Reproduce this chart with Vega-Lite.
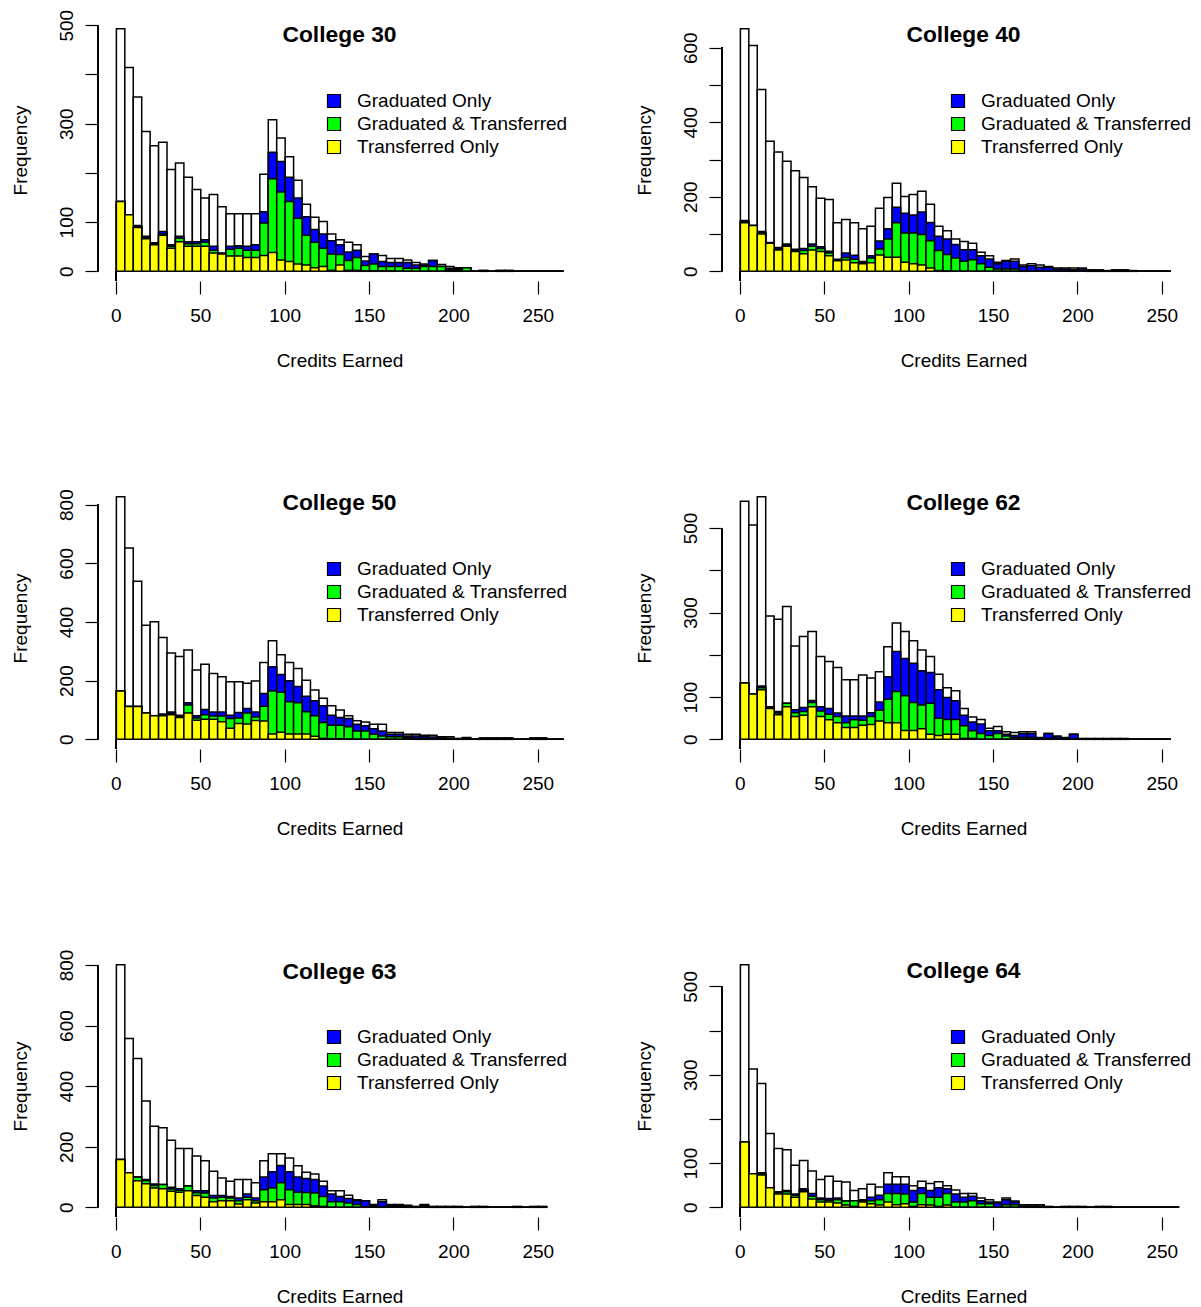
{
  "$schema": "https://vega.github.io/schema/vega-lite/v6.json",
  "background": "white",
  "padding": {"left": 10, "top": 9, "right": 0, "bottom": 0},
  "datasets": {
    "c30": [
      {"bin":0,"total":493,"grad_or_trans":142,"trans":142,"trans_only":142},
      {"bin":5,"total":414,"grad_or_trans":115,"trans":115,"trans_only":115},
      {"bin":10,"total":354,"grad_or_trans":93,"trans":91,"trans_only":89},
      {"bin":15,"total":284,"grad_or_trans":71,"trans":69,"trans_only":66},
      {"bin":20,"total":255,"grad_or_trans":58,"trans":56,"trans_only":54},
      {"bin":25,"total":262,"grad_or_trans":81,"trans":76,"trans_only":73},
      {"bin":30,"total":207,"grad_or_trans":54,"trans":51,"trans_only":47},
      {"bin":35,"total":220,"grad_or_trans":71,"trans":67,"trans_only":60},
      {"bin":40,"total":191,"grad_or_trans":60,"trans":56,"trans_only":51},
      {"bin":45,"total":166,"grad_or_trans":60,"trans":56,"trans_only":51},
      {"bin":50,"total":149,"grad_or_trans":64,"trans":59,"trans_only":51},
      {"bin":55,"total":156,"grad_or_trans":51,"trans":43,"trans_only":37},
      {"bin":60,"total":131,"grad_or_trans":37,"trans":36,"trans_only":35},
      {"bin":65,"total":117,"grad_or_trans":51,"trans":45,"trans_only":31},
      {"bin":70,"total":117,"grad_or_trans":52,"trans":47,"trans_only":31},
      {"bin":75,"total":117,"grad_or_trans":51,"trans":43,"trans_only":28},
      {"bin":80,"total":117,"grad_or_trans":54,"trans":43,"trans_only":28},
      {"bin":85,"total":197,"grad_or_trans":121,"trans":98,"trans_only":32},
      {"bin":90,"total":308,"grad_or_trans":242,"trans":188,"trans_only":38},
      {"bin":95,"total":271,"grad_or_trans":223,"trans":161,"trans_only":23},
      {"bin":100,"total":233,"grad_or_trans":191,"trans":142,"trans_only":20},
      {"bin":105,"total":185,"grad_or_trans":149,"trans":108,"trans_only":15},
      {"bin":110,"total":136,"grad_or_trans":111,"trans":73,"trans_only":13},
      {"bin":115,"total":110,"grad_or_trans":85,"trans":59,"trans_only":7},
      {"bin":120,"total":101,"grad_or_trans":76,"trans":47,"trans_only":10},
      {"bin":125,"total":76,"grad_or_trans":62,"trans":35,"trans_only":2},
      {"bin":130,"total":64,"grad_or_trans":54,"trans":34,"trans_only":13},
      {"bin":135,"total":59,"grad_or_trans":39,"trans":22,"trans_only":2},
      {"bin":140,"total":54,"grad_or_trans":43,"trans":28,"trans_only":2},
      {"bin":145,"total":30,"grad_or_trans":21,"trans":12,"trans_only":1},
      {"bin":150,"total":35,"grad_or_trans":35,"trans":15,"trans_only":1},
      {"bin":155,"total":32,"grad_or_trans":20,"trans":10,"trans_only":1},
      {"bin":160,"total":26,"grad_or_trans":18,"trans":10,"trans_only":1},
      {"bin":165,"total":26,"grad_or_trans":18,"trans":10,"trans_only":0},
      {"bin":170,"total":23,"grad_or_trans":18,"trans":6,"trans_only":0},
      {"bin":175,"total":18,"grad_or_trans":13,"trans":6,"trans_only":0},
      {"bin":180,"total":15,"grad_or_trans":13,"trans":10,"trans_only":0},
      {"bin":185,"total":22,"grad_or_trans":22,"trans":10,"trans_only":0},
      {"bin":190,"total":14,"grad_or_trans":10,"trans":10,"trans_only":0},
      {"bin":195,"total":10,"grad_or_trans":6,"trans":3,"trans_only":0},
      {"bin":200,"total":7,"grad_or_trans":5,"trans":3,"trans_only":0},
      {"bin":205,"total":7,"grad_or_trans":7,"trans":7,"trans_only":0},
      {"bin":210,"total":0,"grad_or_trans":0,"trans":0,"trans_only":0},
      {"bin":215,"total":2,"grad_or_trans":1,"trans":0,"trans_only":0},
      {"bin":220,"total":0,"grad_or_trans":0,"trans":0,"trans_only":0},
      {"bin":225,"total":2,"grad_or_trans":1,"trans":0,"trans_only":0},
      {"bin":230,"total":2,"grad_or_trans":1,"trans":0,"trans_only":0},
      {"bin":235,"total":0,"grad_or_trans":0,"trans":0,"trans_only":0},
      {"bin":240,"total":0,"grad_or_trans":0,"trans":0,"trans_only":0},
      {"bin":245,"total":0,"grad_or_trans":0,"trans":0,"trans_only":0},
      {"bin":250,"total":0,"grad_or_trans":0,"trans":0,"trans_only":0},
      {"bin":255,"total":0,"grad_or_trans":0,"trans":0,"trans_only":0},
      {"bin":260,"total":0,"grad_or_trans":0,"trans":0,"trans_only":0}
    ],
    "c40": [
      {"bin":0,"total":651,"grad_or_trans":136,"trans":134,"trans_only":130},
      {"bin":5,"total":606,"grad_or_trans":123,"trans":123,"trans_only":123},
      {"bin":10,"total":488,"grad_or_trans":107,"trans":104,"trans_only":100},
      {"bin":15,"total":349,"grad_or_trans":77,"trans":76,"trans_only":75},
      {"bin":20,"total":320,"grad_or_trans":64,"trans":60,"trans_only":57},
      {"bin":25,"total":295,"grad_or_trans":73,"trans":70,"trans_only":67},
      {"bin":30,"total":270,"grad_or_trans":59,"trans":56,"trans_only":53},
      {"bin":35,"total":252,"grad_or_trans":61,"trans":56,"trans_only":47},
      {"bin":40,"total":227,"grad_or_trans":73,"trans":67,"trans_only":57},
      {"bin":45,"total":196,"grad_or_trans":66,"trans":61,"trans_only":53},
      {"bin":50,"total":193,"grad_or_trans":54,"trans":49,"trans_only":42},
      {"bin":55,"total":130,"grad_or_trans":32,"trans":30,"trans_only":28},
      {"bin":60,"total":139,"grad_or_trans":49,"trans":37,"trans_only":30},
      {"bin":65,"total":130,"grad_or_trans":43,"trans":32,"trans_only":23},
      {"bin":70,"total":114,"grad_or_trans":26,"trans":24,"trans_only":20},
      {"bin":75,"total":121,"grad_or_trans":42,"trans":36,"trans_only":23},
      {"bin":80,"total":169,"grad_or_trans":81,"trans":60,"trans_only":44},
      {"bin":85,"total":198,"grad_or_trans":114,"trans":87,"trans_only":38},
      {"bin":90,"total":236,"grad_or_trans":172,"trans":130,"trans_only":38},
      {"bin":95,"total":201,"grad_or_trans":156,"trans":103,"trans_only":24},
      {"bin":100,"total":206,"grad_or_trans":151,"trans":103,"trans_only":20},
      {"bin":105,"total":215,"grad_or_trans":159,"trans":99,"trans_only":17},
      {"bin":110,"total":180,"grad_or_trans":131,"trans":82,"trans_only":9},
      {"bin":115,"total":121,"grad_or_trans":94,"trans":56,"trans_only":2},
      {"bin":120,"total":109,"grad_or_trans":87,"trans":45,"trans_only":1},
      {"bin":125,"total":87,"grad_or_trans":72,"trans":36,"trans_only":0},
      {"bin":130,"total":80,"grad_or_trans":58,"trans":27,"trans_only":0},
      {"bin":135,"total":75,"grad_or_trans":58,"trans":31,"trans_only":0},
      {"bin":140,"total":51,"grad_or_trans":42,"trans":20,"trans_only":0},
      {"bin":145,"total":42,"grad_or_trans":33,"trans":11,"trans_only":0},
      {"bin":150,"total":24,"grad_or_trans":20,"trans":6,"trans_only":0},
      {"bin":155,"total":29,"grad_or_trans":27,"trans":6,"trans_only":0},
      {"bin":160,"total":33,"grad_or_trans":27,"trans":6,"trans_only":0},
      {"bin":165,"total":17,"grad_or_trans":13,"trans":1,"trans_only":0},
      {"bin":170,"total":20,"grad_or_trans":15,"trans":0,"trans_only":0},
      {"bin":175,"total":17,"grad_or_trans":11,"trans":0,"trans_only":0},
      {"bin":180,"total":13,"grad_or_trans":11,"trans":0,"trans_only":0},
      {"bin":185,"total":9,"grad_or_trans":6,"trans":0,"trans_only":0},
      {"bin":190,"total":9,"grad_or_trans":6,"trans":0,"trans_only":0},
      {"bin":195,"total":9,"grad_or_trans":4,"trans":0,"trans_only":0},
      {"bin":200,"total":9,"grad_or_trans":6,"trans":0,"trans_only":0},
      {"bin":205,"total":4,"grad_or_trans":2,"trans":0,"trans_only":0},
      {"bin":210,"total":4,"grad_or_trans":2,"trans":0,"trans_only":0},
      {"bin":215,"total":2,"grad_or_trans":1,"trans":0,"trans_only":0},
      {"bin":220,"total":4,"grad_or_trans":2,"trans":0,"trans_only":0},
      {"bin":225,"total":4,"grad_or_trans":2,"trans":0,"trans_only":0},
      {"bin":230,"total":2,"grad_or_trans":1,"trans":0,"trans_only":0},
      {"bin":235,"total":0,"grad_or_trans":0,"trans":0,"trans_only":0},
      {"bin":240,"total":0,"grad_or_trans":0,"trans":0,"trans_only":0},
      {"bin":245,"total":0,"grad_or_trans":0,"trans":0,"trans_only":0},
      {"bin":250,"total":0,"grad_or_trans":0,"trans":0,"trans_only":0}
    ],
    "c50": [
      {"bin":0,"total":827,"grad_or_trans":165,"trans":165,"trans_only":165},
      {"bin":5,"total":652,"grad_or_trans":112,"trans":112,"trans_only":112},
      {"bin":10,"total":539,"grad_or_trans":112,"trans":112,"trans_only":112},
      {"bin":15,"total":389,"grad_or_trans":90,"trans":90,"trans_only":90},
      {"bin":20,"total":401,"grad_or_trans":80,"trans":80,"trans_only":80},
      {"bin":25,"total":347,"grad_or_trans":86,"trans":83,"trans_only":80},
      {"bin":30,"total":294,"grad_or_trans":93,"trans":88,"trans_only":84},
      {"bin":35,"total":282,"grad_or_trans":82,"trans":78,"trans_only":74},
      {"bin":40,"total":304,"grad_or_trans":125,"trans":117,"trans_only":90},
      {"bin":45,"total":236,"grad_or_trans":80,"trans":73,"trans_only":65},
      {"bin":50,"total":256,"grad_or_trans":102,"trans":84,"trans_only":68},
      {"bin":55,"total":224,"grad_or_trans":93,"trans":79,"trans_only":68},
      {"bin":60,"total":213,"grad_or_trans":93,"trans":79,"trans_only":60},
      {"bin":65,"total":196,"grad_or_trans":82,"trans":71,"trans_only":38},
      {"bin":70,"total":196,"grad_or_trans":91,"trans":73,"trans_only":54},
      {"bin":75,"total":191,"grad_or_trans":105,"trans":90,"trans_only":52},
      {"bin":80,"total":199,"grad_or_trans":93,"trans":76,"trans_only":64},
      {"bin":85,"total":262,"grad_or_trans":156,"trans":113,"trans_only":62},
      {"bin":90,"total":336,"grad_or_trans":247,"trans":165,"trans_only":18},
      {"bin":95,"total":288,"grad_or_trans":221,"trans":160,"trans_only":24},
      {"bin":100,"total":262,"grad_or_trans":200,"trans":128,"trans_only":18},
      {"bin":105,"total":241,"grad_or_trans":180,"trans":125,"trans_only":18},
      {"bin":110,"total":201,"grad_or_trans":147,"trans":94,"trans_only":18},
      {"bin":115,"total":168,"grad_or_trans":131,"trans":80,"trans_only":10},
      {"bin":120,"total":140,"grad_or_trans":114,"trans":57,"trans_only":3},
      {"bin":125,"total":114,"grad_or_trans":82,"trans":48,"trans_only":2},
      {"bin":130,"total":100,"grad_or_trans":74,"trans":48,"trans_only":2},
      {"bin":135,"total":80,"grad_or_trans":71,"trans":43,"trans_only":1},
      {"bin":140,"total":63,"grad_or_trans":51,"trans":28,"trans_only":1},
      {"bin":145,"total":59,"grad_or_trans":46,"trans":28,"trans_only":0},
      {"bin":150,"total":51,"grad_or_trans":36,"trans":17,"trans_only":0},
      {"bin":155,"total":51,"grad_or_trans":28,"trans":11,"trans_only":0},
      {"bin":160,"total":23,"grad_or_trans":17,"trans":9,"trans_only":0},
      {"bin":165,"total":23,"grad_or_trans":17,"trans":9,"trans_only":0},
      {"bin":170,"total":17,"grad_or_trans":11,"trans":6,"trans_only":0},
      {"bin":175,"total":17,"grad_or_trans":11,"trans":3,"trans_only":0},
      {"bin":180,"total":14,"grad_or_trans":9,"trans":2,"trans_only":0},
      {"bin":185,"total":14,"grad_or_trans":8,"trans":2,"trans_only":0},
      {"bin":190,"total":9,"grad_or_trans":5,"trans":0,"trans_only":0},
      {"bin":195,"total":9,"grad_or_trans":4,"trans":0,"trans_only":0},
      {"bin":200,"total":3,"grad_or_trans":1,"trans":0,"trans_only":0},
      {"bin":205,"total":6,"grad_or_trans":3,"trans":0,"trans_only":0},
      {"bin":210,"total":1,"grad_or_trans":0,"trans":0,"trans_only":0},
      {"bin":215,"total":5,"grad_or_trans":2,"trans":0,"trans_only":0},
      {"bin":220,"total":5,"grad_or_trans":2,"trans":0,"trans_only":0},
      {"bin":225,"total":5,"grad_or_trans":2,"trans":0,"trans_only":0},
      {"bin":230,"total":5,"grad_or_trans":2,"trans":0,"trans_only":0},
      {"bin":235,"total":0,"grad_or_trans":0,"trans":0,"trans_only":0},
      {"bin":240,"total":0,"grad_or_trans":0,"trans":0,"trans_only":0},
      {"bin":245,"total":5,"grad_or_trans":2,"trans":0,"trans_only":0},
      {"bin":250,"total":5,"grad_or_trans":2,"trans":0,"trans_only":0},
      {"bin":255,"total":0,"grad_or_trans":0,"trans":0,"trans_only":0},
      {"bin":260,"total":0,"grad_or_trans":0,"trans":0,"trans_only":0}
    ],
    "c62": [
      {"bin":0,"total":563,"grad_or_trans":133,"trans":133,"trans_only":133},
      {"bin":5,"total":507,"grad_or_trans":107,"trans":107,"trans_only":107},
      {"bin":10,"total":574,"grad_or_trans":126,"trans":122,"trans_only":117},
      {"bin":15,"total":292,"grad_or_trans":77,"trans":75,"trans_only":73},
      {"bin":20,"total":284,"grad_or_trans":66,"trans":62,"trans_only":58},
      {"bin":25,"total":314,"grad_or_trans":85,"trans":85,"trans_only":77},
      {"bin":30,"total":221,"grad_or_trans":70,"trans":63,"trans_only":54},
      {"bin":35,"total":243,"grad_or_trans":75,"trans":66,"trans_only":57},
      {"bin":40,"total":255,"grad_or_trans":92,"trans":87,"trans_only":77},
      {"bin":45,"total":196,"grad_or_trans":77,"trans":67,"trans_only":54},
      {"bin":50,"total":184,"grad_or_trans":73,"trans":59,"trans_only":46},
      {"bin":55,"total":170,"grad_or_trans":62,"trans":54,"trans_only":39},
      {"bin":60,"total":141,"grad_or_trans":55,"trans":39,"trans_only":28},
      {"bin":65,"total":141,"grad_or_trans":55,"trans":46,"trans_only":28},
      {"bin":70,"total":152,"grad_or_trans":55,"trans":45,"trans_only":33},
      {"bin":75,"total":145,"grad_or_trans":63,"trans":54,"trans_only":35},
      {"bin":80,"total":160,"grad_or_trans":88,"trans":69,"trans_only":43},
      {"bin":85,"total":219,"grad_or_trans":148,"trans":95,"trans_only":39},
      {"bin":90,"total":275,"grad_or_trans":208,"trans":113,"trans_only":39},
      {"bin":95,"total":255,"grad_or_trans":191,"trans":103,"trans_only":21},
      {"bin":100,"total":233,"grad_or_trans":180,"trans":87,"trans_only":21},
      {"bin":105,"total":211,"grad_or_trans":162,"trans":81,"trans_only":25},
      {"bin":110,"total":196,"grad_or_trans":158,"trans":85,"trans_only":12},
      {"bin":115,"total":154,"grad_or_trans":117,"trans":50,"trans_only":9},
      {"bin":120,"total":122,"grad_or_trans":99,"trans":47,"trans_only":12},
      {"bin":125,"total":115,"grad_or_trans":91,"trans":47,"trans_only":12},
      {"bin":130,"total":73,"grad_or_trans":57,"trans":32,"trans_only":2},
      {"bin":135,"total":53,"grad_or_trans":41,"trans":20,"trans_only":2},
      {"bin":140,"total":47,"grad_or_trans":36,"trans":14,"trans_only":0},
      {"bin":145,"total":26,"grad_or_trans":20,"trans":9,"trans_only":0},
      {"bin":150,"total":30,"grad_or_trans":20,"trans":14,"trans_only":0},
      {"bin":155,"total":18,"grad_or_trans":12,"trans":8,"trans_only":0},
      {"bin":160,"total":16,"grad_or_trans":9,"trans":4,"trans_only":0},
      {"bin":165,"total":18,"grad_or_trans":14,"trans":4,"trans_only":0},
      {"bin":170,"total":18,"grad_or_trans":14,"trans":4,"trans_only":0},
      {"bin":175,"total":4,"grad_or_trans":2,"trans":0,"trans_only":0},
      {"bin":180,"total":14,"grad_or_trans":14,"trans":2,"trans_only":0},
      {"bin":185,"total":8,"grad_or_trans":6,"trans":0,"trans_only":0},
      {"bin":190,"total":4,"grad_or_trans":2,"trans":0,"trans_only":0},
      {"bin":195,"total":12,"grad_or_trans":12,"trans":0,"trans_only":0},
      {"bin":200,"total":2,"grad_or_trans":1,"trans":0,"trans_only":0},
      {"bin":205,"total":2,"grad_or_trans":1,"trans":0,"trans_only":0},
      {"bin":210,"total":2,"grad_or_trans":1,"trans":0,"trans_only":0},
      {"bin":215,"total":2,"grad_or_trans":1,"trans":0,"trans_only":0},
      {"bin":220,"total":2,"grad_or_trans":1,"trans":0,"trans_only":0},
      {"bin":225,"total":2,"grad_or_trans":1,"trans":0,"trans_only":0},
      {"bin":230,"total":0,"grad_or_trans":0,"trans":0,"trans_only":0},
      {"bin":235,"total":0,"grad_or_trans":0,"trans":0,"trans_only":0},
      {"bin":240,"total":0,"grad_or_trans":0,"trans":0,"trans_only":0},
      {"bin":245,"total":0,"grad_or_trans":0,"trans":0,"trans_only":0},
      {"bin":250,"total":0,"grad_or_trans":0,"trans":0,"trans_only":0}
    ],
    "c63": [
      {"bin":0,"total":801,"grad_or_trans":158,"trans":158,"trans_only":158},
      {"bin":5,"total":557,"grad_or_trans":114,"trans":114,"trans_only":114},
      {"bin":10,"total":491,"grad_or_trans":101,"trans":99,"trans_only":88},
      {"bin":15,"total":351,"grad_or_trans":92,"trans":88,"trans_only":78},
      {"bin":20,"total":268,"grad_or_trans":77,"trans":72,"trans_only":64},
      {"bin":25,"total":263,"grad_or_trans":75,"trans":75,"trans_only":61},
      {"bin":30,"total":221,"grad_or_trans":66,"trans":60,"trans_only":53},
      {"bin":35,"total":194,"grad_or_trans":61,"trans":56,"trans_only":50},
      {"bin":40,"total":194,"grad_or_trans":70,"trans":70,"trans_only":55},
      {"bin":45,"total":169,"grad_or_trans":55,"trans":48,"trans_only":39},
      {"bin":50,"total":154,"grad_or_trans":55,"trans":47,"trans_only":33},
      {"bin":55,"total":119,"grad_or_trans":39,"trans":31,"trans_only":18},
      {"bin":60,"total":97,"grad_or_trans":39,"trans":33,"trans_only":22},
      {"bin":65,"total":86,"grad_or_trans":36,"trans":31,"trans_only":22},
      {"bin":70,"total":92,"grad_or_trans":31,"trans":22,"trans_only":11},
      {"bin":75,"total":92,"grad_or_trans":44,"trans":33,"trans_only":25},
      {"bin":80,"total":81,"grad_or_trans":31,"trans":22,"trans_only":14},
      {"bin":85,"total":154,"grad_or_trans":100,"trans":58,"trans_only":18},
      {"bin":90,"total":177,"grad_or_trans":117,"trans":64,"trans_only":18},
      {"bin":95,"total":177,"grad_or_trans":138,"trans":81,"trans_only":25},
      {"bin":100,"total":163,"grad_or_trans":117,"trans":58,"trans_only":9},
      {"bin":105,"total":137,"grad_or_trans":100,"trans":50,"trans_only":9},
      {"bin":110,"total":116,"grad_or_trans":95,"trans":49,"trans_only":9},
      {"bin":115,"total":110,"grad_or_trans":92,"trans":47,"trans_only":5},
      {"bin":120,"total":86,"grad_or_trans":70,"trans":36,"trans_only":3},
      {"bin":125,"total":55,"grad_or_trans":44,"trans":18,"trans_only":0},
      {"bin":130,"total":55,"grad_or_trans":36,"trans":18,"trans_only":0},
      {"bin":135,"total":40,"grad_or_trans":29,"trans":14,"trans_only":0},
      {"bin":140,"total":25,"grad_or_trans":22,"trans":9,"trans_only":0},
      {"bin":145,"total":22,"grad_or_trans":22,"trans":1,"trans_only":0},
      {"bin":150,"total":9,"grad_or_trans":5,"trans":0,"trans_only":0},
      {"bin":155,"total":25,"grad_or_trans":18,"trans":2,"trans_only":0},
      {"bin":160,"total":9,"grad_or_trans":5,"trans":0,"trans_only":0},
      {"bin":165,"total":9,"grad_or_trans":5,"trans":0,"trans_only":0},
      {"bin":170,"total":7,"grad_or_trans":4,"trans":0,"trans_only":0},
      {"bin":175,"total":3,"grad_or_trans":1,"trans":0,"trans_only":0},
      {"bin":180,"total":9,"grad_or_trans":7,"trans":0,"trans_only":0},
      {"bin":185,"total":3,"grad_or_trans":1,"trans":0,"trans_only":0},
      {"bin":190,"total":3,"grad_or_trans":1,"trans":0,"trans_only":0},
      {"bin":195,"total":3,"grad_or_trans":1,"trans":0,"trans_only":0},
      {"bin":200,"total":3,"grad_or_trans":1,"trans":0,"trans_only":0},
      {"bin":205,"total":0,"grad_or_trans":0,"trans":0,"trans_only":0},
      {"bin":210,"total":3,"grad_or_trans":1,"trans":0,"trans_only":0},
      {"bin":215,"total":3,"grad_or_trans":1,"trans":0,"trans_only":0},
      {"bin":220,"total":0,"grad_or_trans":0,"trans":0,"trans_only":0},
      {"bin":225,"total":0,"grad_or_trans":0,"trans":0,"trans_only":0},
      {"bin":230,"total":0,"grad_or_trans":0,"trans":0,"trans_only":0},
      {"bin":235,"total":3,"grad_or_trans":1,"trans":0,"trans_only":0},
      {"bin":240,"total":0,"grad_or_trans":0,"trans":0,"trans_only":0},
      {"bin":245,"total":3,"grad_or_trans":1,"trans":0,"trans_only":0},
      {"bin":250,"total":3,"grad_or_trans":1,"trans":0,"trans_only":0}
    ],
    "c64": [
      {"bin":0,"total":549,"grad_or_trans":148,"trans":148,"trans_only":148},
      {"bin":5,"total":313,"grad_or_trans":76,"trans":76,"trans_only":76},
      {"bin":10,"total":280,"grad_or_trans":78,"trans":76,"trans_only":73},
      {"bin":15,"total":167,"grad_or_trans":44,"trans":44,"trans_only":44},
      {"bin":20,"total":133,"grad_or_trans":35,"trans":33,"trans_only":30},
      {"bin":25,"total":130,"grad_or_trans":38,"trans":35,"trans_only":30},
      {"bin":30,"total":95,"grad_or_trans":30,"trans":27,"trans_only":23},
      {"bin":35,"total":106,"grad_or_trans":42,"trans":38,"trans_only":35},
      {"bin":40,"total":82,"grad_or_trans":31,"trans":25,"trans_only":19},
      {"bin":45,"total":63,"grad_or_trans":21,"trans":17,"trans_only":12},
      {"bin":50,"total":70,"grad_or_trans":20,"trans":16,"trans_only":12},
      {"bin":55,"total":59,"grad_or_trans":21,"trans":17,"trans_only":10},
      {"bin":60,"total":57,"grad_or_trans":14,"trans":14,"trans_only":5},
      {"bin":65,"total":38,"grad_or_trans":15,"trans":15,"trans_only":2},
      {"bin":70,"total":42,"grad_or_trans":17,"trans":15,"trans_only":12},
      {"bin":75,"total":52,"grad_or_trans":23,"trans":15,"trans_only":8},
      {"bin":80,"total":46,"grad_or_trans":27,"trans":17,"trans_only":5},
      {"bin":85,"total":78,"grad_or_trans":52,"trans":31,"trans_only":12},
      {"bin":90,"total":69,"grad_or_trans":52,"trans":31,"trans_only":6},
      {"bin":95,"total":69,"grad_or_trans":52,"trans":30,"trans_only":8},
      {"bin":100,"total":49,"grad_or_trans":38,"trans":12,"trans_only":2},
      {"bin":105,"total":59,"grad_or_trans":44,"trans":31,"trans_only":6},
      {"bin":110,"total":54,"grad_or_trans":38,"trans":23,"trans_only":5},
      {"bin":115,"total":58,"grad_or_trans":44,"trans":23,"trans_only":2},
      {"bin":120,"total":49,"grad_or_trans":42,"trans":31,"trans_only":5},
      {"bin":125,"total":39,"grad_or_trans":30,"trans":12,"trans_only":0},
      {"bin":130,"total":31,"grad_or_trans":23,"trans":12,"trans_only":0},
      {"bin":135,"total":31,"grad_or_trans":25,"trans":15,"trans_only":0},
      {"bin":140,"total":21,"grad_or_trans":15,"trans":8,"trans_only":0},
      {"bin":145,"total":17,"grad_or_trans":12,"trans":8,"trans_only":0},
      {"bin":150,"total":12,"grad_or_trans":10,"trans":0,"trans_only":0},
      {"bin":155,"total":21,"grad_or_trans":17,"trans":6,"trans_only":0},
      {"bin":160,"total":14,"grad_or_trans":12,"trans":6,"trans_only":0},
      {"bin":165,"total":6,"grad_or_trans":3,"trans":0,"trans_only":0},
      {"bin":170,"total":6,"grad_or_trans":3,"trans":0,"trans_only":0},
      {"bin":175,"total":6,"grad_or_trans":3,"trans":0,"trans_only":0},
      {"bin":180,"total":2,"grad_or_trans":1,"trans":0,"trans_only":0},
      {"bin":185,"total":0,"grad_or_trans":0,"trans":0,"trans_only":0},
      {"bin":190,"total":2,"grad_or_trans":1,"trans":0,"trans_only":0},
      {"bin":195,"total":2,"grad_or_trans":1,"trans":0,"trans_only":0},
      {"bin":200,"total":2,"grad_or_trans":1,"trans":0,"trans_only":0},
      {"bin":205,"total":0,"grad_or_trans":0,"trans":0,"trans_only":0},
      {"bin":210,"total":2,"grad_or_trans":1,"trans":0,"trans_only":0},
      {"bin":215,"total":2,"grad_or_trans":1,"trans":0,"trans_only":0},
      {"bin":220,"total":0,"grad_or_trans":0,"trans":0,"trans_only":0},
      {"bin":225,"total":0,"grad_or_trans":0,"trans":0,"trans_only":0},
      {"bin":230,"total":0,"grad_or_trans":0,"trans":0,"trans_only":0},
      {"bin":235,"total":0,"grad_or_trans":0,"trans":0,"trans_only":0},
      {"bin":240,"total":0,"grad_or_trans":0,"trans":0,"trans_only":0},
      {"bin":245,"total":0,"grad_or_trans":0,"trans":0,"trans_only":0},
      {"bin":250,"total":0,"grad_or_trans":0,"trans":0,"trans_only":0},
      {"bin":255,"total":0,"grad_or_trans":0,"trans":0,"trans_only":0}
    ]
  },
  "columns": 2,
  "spacing": {"row": 206, "column": 154},
  "bounds": "flush",
  "resolve": {"scale": {"x": "independent", "y": "independent", "fill": "independent"}, "legend": {"fill": "independent"}},
  "concat": [
    {
      "data": {"name": "c30"}, "width": 470, "height": 262,
      "title": {"text": "College 30", "offset": -37.8, "dx": 6.5},
      "encoding": {"x": {"field": "bin", "type": "quantitative", "bin": {"binned": true, "step": 5}, "title": "Credits Earned", "scale": {"domain": [-10.6, 267.9], "nice": false, "zero": false}, "axis": {"values": [0,50,100,150,200,250]}}},
      "layer": [
        {"mark": {"type": "bar", "fill": "white", "stroke": "black", "strokeWidth": 1.5, "binSpacing": 0},
         "encoding": {"y": {"field": "total", "type": "quantitative", "title": "Frequency", "scale": {"domain": [-19.72, 512.72], "nice": false, "zero": false}, "axis": {"values": [0,100,200,300,400,500], "labelExpr": "datum.value == 200 || datum.value == 400 ? '' : datum.label"}}, "y2": {"datum": 0}}},
        {"mark": {"type": "bar", "stroke": "black", "strokeWidth": 1.5, "binSpacing": 0},
         "encoding": {"y": {"field": "grad_or_trans", "type": "quantitative", "title": "Frequency"}, "y2": {"datum": 0},
           "fill": {"datum": "Graduated Only", "type": "nominal", "scale": {"domain": ["Graduated Only", "Graduated & Transferred", "Transferred Only"], "range": ["#0000FF", "#00FF00", "#FFFF00"]}, "legend": {"orient": "none", "legendX": 226.5, "legendY": 72.5, "title": null}}}},
        {"mark": {"type": "bar", "stroke": "black", "strokeWidth": 1.5, "binSpacing": 0},
         "encoding": {"y": {"field": "trans", "type": "quantitative", "title": "Frequency"}, "y2": {"datum": 0}, "fill": {"datum": "Graduated & Transferred", "type": "nominal"}}},
        {"mark": {"type": "bar", "stroke": "black", "strokeWidth": 1.5, "binSpacing": 0},
         "encoding": {"y": {"field": "trans_only", "type": "quantitative", "title": "Frequency"}, "y2": {"datum": 0}, "fill": {"datum": "Transferred Only", "type": "nominal"}}},
        {"mark": {"type": "rule", "stroke": "black", "strokeWidth": 1.2}, "encoding": {"x": {"datum": 0}, "x2": {"datum": 250}, "y": {"datum": -19.72}}},
        {"mark": {"type": "rule", "stroke": "black", "strokeWidth": 1.2}, "encoding": {"x": {"datum": -10.6}, "y": {"datum": 0}, "y2": {"datum": 500}}}
      ]
    },
    {
      "data": {"name": "c40"}, "width": 470, "height": 262,
      "title": {"text": "College 40", "offset": -28.2, "dx": 6.5},
      "encoding": {"x": {"field": "bin", "type": "quantitative", "bin": {"binned": true, "step": 5}, "title": "Credits Earned", "scale": {"domain": [-10.6, 267.9], "nice": false, "zero": false}, "axis": {"values": [0,50,100,150,200,250]}}},
      "layer": [
        {"mark": {"type": "bar", "fill": "white", "stroke": "black", "strokeWidth": 1.5, "binSpacing": 0},
         "encoding": {"y": {"field": "total", "type": "quantitative", "title": "Frequency", "scale": {"domain": [-26.04, 677.04], "nice": false, "zero": false}, "axis": {"values": [0,100,200,300,400,500,600], "labelExpr": "datum.value == 100 || datum.value == 300 || datum.value == 500 ? '' : datum.label"}}, "y2": {"datum": 0}}},
        {"mark": {"type": "bar", "stroke": "black", "strokeWidth": 1.5, "binSpacing": 0},
         "encoding": {"y": {"field": "grad_or_trans", "type": "quantitative", "title": "Frequency"}, "y2": {"datum": 0},
           "fill": {"datum": "Graduated Only", "type": "nominal", "scale": {"domain": ["Graduated Only", "Graduated & Transferred", "Transferred Only"], "range": ["#0000FF", "#00FF00", "#FFFF00"]}, "legend": {"orient": "none", "legendX": 226.5, "legendY": 72.5, "title": null}}}},
        {"mark": {"type": "bar", "stroke": "black", "strokeWidth": 1.5, "binSpacing": 0},
         "encoding": {"y": {"field": "trans", "type": "quantitative", "title": "Frequency"}, "y2": {"datum": 0}, "fill": {"datum": "Graduated & Transferred", "type": "nominal"}}},
        {"mark": {"type": "bar", "stroke": "black", "strokeWidth": 1.5, "binSpacing": 0},
         "encoding": {"y": {"field": "trans_only", "type": "quantitative", "title": "Frequency"}, "y2": {"datum": 0}, "fill": {"datum": "Transferred Only", "type": "nominal"}}},
        {"mark": {"type": "rule", "stroke": "black", "strokeWidth": 1.2}, "encoding": {"x": {"datum": 0}, "x2": {"datum": 250}, "y": {"datum": -26.04}}},
        {"mark": {"type": "rule", "stroke": "black", "strokeWidth": 1.2}, "encoding": {"x": {"datum": -10.6}, "y": {"datum": 0}, "y2": {"datum": 600}}}
      ]
    },
    {
      "data": {"name": "c50"}, "width": 470, "height": 262,
      "title": {"text": "College 50", "offset": -28.2, "dx": 6.5},
      "encoding": {"x": {"field": "bin", "type": "quantitative", "bin": {"binned": true, "step": 5}, "title": "Credits Earned", "scale": {"domain": [-10.6, 267.9], "nice": false, "zero": false}, "axis": {"values": [0,50,100,150,200,250]}}},
      "layer": [
        {"mark": {"type": "bar", "fill": "white", "stroke": "black", "strokeWidth": 1.5, "binSpacing": 0},
         "encoding": {"y": {"field": "total", "type": "quantitative", "title": "Frequency", "scale": {"domain": [-33.08, 860.08], "nice": false, "zero": false}, "axis": {"values": [0,200,400,600,800]}}, "y2": {"datum": 0}}},
        {"mark": {"type": "bar", "stroke": "black", "strokeWidth": 1.5, "binSpacing": 0},
         "encoding": {"y": {"field": "grad_or_trans", "type": "quantitative", "title": "Frequency"}, "y2": {"datum": 0},
           "fill": {"datum": "Graduated Only", "type": "nominal", "scale": {"domain": ["Graduated Only", "Graduated & Transferred", "Transferred Only"], "range": ["#0000FF", "#00FF00", "#FFFF00"]}, "legend": {"orient": "none", "legendX": 226.5, "legendY": 72.5, "title": null}}}},
        {"mark": {"type": "bar", "stroke": "black", "strokeWidth": 1.5, "binSpacing": 0},
         "encoding": {"y": {"field": "trans", "type": "quantitative", "title": "Frequency"}, "y2": {"datum": 0}, "fill": {"datum": "Graduated & Transferred", "type": "nominal"}}},
        {"mark": {"type": "bar", "stroke": "black", "strokeWidth": 1.5, "binSpacing": 0},
         "encoding": {"y": {"field": "trans_only", "type": "quantitative", "title": "Frequency"}, "y2": {"datum": 0}, "fill": {"datum": "Transferred Only", "type": "nominal"}}},
        {"mark": {"type": "rule", "stroke": "black", "strokeWidth": 1.2}, "encoding": {"x": {"datum": 0}, "x2": {"datum": 250}, "y": {"datum": -33.08}}},
        {"mark": {"type": "rule", "stroke": "black", "strokeWidth": 1.2}, "encoding": {"x": {"datum": -10.6}, "y": {"datum": 0}, "y2": {"datum": 800}}}
      ]
    },
    {
      "data": {"name": "c62"}, "width": 470, "height": 262,
      "title": {"text": "College 62", "offset": -28.2, "dx": 6.5},
      "encoding": {"x": {"field": "bin", "type": "quantitative", "bin": {"binned": true, "step": 5}, "title": "Credits Earned", "scale": {"domain": [-10.6, 267.9], "nice": false, "zero": false}, "axis": {"values": [0,50,100,150,200,250]}}},
      "layer": [
        {"mark": {"type": "bar", "fill": "white", "stroke": "black", "strokeWidth": 1.5, "binSpacing": 0},
         "encoding": {"y": {"field": "total", "type": "quantitative", "title": "Frequency", "scale": {"domain": [-22.96, 596.96], "nice": false, "zero": false}, "axis": {"values": [0,100,200,300,400,500], "labelExpr": "datum.value == 200 || datum.value == 400 ? '' : datum.label"}}, "y2": {"datum": 0}}},
        {"mark": {"type": "bar", "stroke": "black", "strokeWidth": 1.5, "binSpacing": 0},
         "encoding": {"y": {"field": "grad_or_trans", "type": "quantitative", "title": "Frequency"}, "y2": {"datum": 0},
           "fill": {"datum": "Graduated Only", "type": "nominal", "scale": {"domain": ["Graduated Only", "Graduated & Transferred", "Transferred Only"], "range": ["#0000FF", "#00FF00", "#FFFF00"]}, "legend": {"orient": "none", "legendX": 226.5, "legendY": 72.5, "title": null}}}},
        {"mark": {"type": "bar", "stroke": "black", "strokeWidth": 1.5, "binSpacing": 0},
         "encoding": {"y": {"field": "trans", "type": "quantitative", "title": "Frequency"}, "y2": {"datum": 0}, "fill": {"datum": "Graduated & Transferred", "type": "nominal"}}},
        {"mark": {"type": "bar", "stroke": "black", "strokeWidth": 1.5, "binSpacing": 0},
         "encoding": {"y": {"field": "trans_only", "type": "quantitative", "title": "Frequency"}, "y2": {"datum": 0}, "fill": {"datum": "Transferred Only", "type": "nominal"}}},
        {"mark": {"type": "rule", "stroke": "black", "strokeWidth": 1.2}, "encoding": {"x": {"datum": 0}, "x2": {"datum": 250}, "y": {"datum": -22.96}}},
        {"mark": {"type": "rule", "stroke": "black", "strokeWidth": 1.2}, "encoding": {"x": {"datum": -10.6}, "y": {"datum": 0}, "y2": {"datum": 500}}}
      ]
    },
    {
      "data": {"name": "c63"}, "width": 470, "height": 262,
      "title": {"text": "College 63", "offset": -34.4, "dx": 6.5},
      "encoding": {"x": {"field": "bin", "type": "quantitative", "bin": {"binned": true, "step": 5}, "title": "Credits Earned", "scale": {"domain": [-10.6, 267.9], "nice": false, "zero": false}, "axis": {"values": [0,50,100,150,200,250]}}},
      "layer": [
        {"mark": {"type": "bar", "fill": "white", "stroke": "black", "strokeWidth": 1.5, "binSpacing": 0},
         "encoding": {"y": {"field": "total", "type": "quantitative", "title": "Frequency", "scale": {"domain": [-32.04, 833.04], "nice": false, "zero": false}, "axis": {"values": [0,200,400,600,800]}}, "y2": {"datum": 0}}},
        {"mark": {"type": "bar", "stroke": "black", "strokeWidth": 1.5, "binSpacing": 0},
         "encoding": {"y": {"field": "grad_or_trans", "type": "quantitative", "title": "Frequency"}, "y2": {"datum": 0},
           "fill": {"datum": "Graduated Only", "type": "nominal", "scale": {"domain": ["Graduated Only", "Graduated & Transferred", "Transferred Only"], "range": ["#0000FF", "#00FF00", "#FFFF00"]}, "legend": {"orient": "none", "legendX": 226.5, "legendY": 72.5, "title": null}}}},
        {"mark": {"type": "bar", "stroke": "black", "strokeWidth": 1.5, "binSpacing": 0},
         "encoding": {"y": {"field": "trans", "type": "quantitative", "title": "Frequency"}, "y2": {"datum": 0}, "fill": {"datum": "Graduated & Transferred", "type": "nominal"}}},
        {"mark": {"type": "bar", "stroke": "black", "strokeWidth": 1.5, "binSpacing": 0},
         "encoding": {"y": {"field": "trans_only", "type": "quantitative", "title": "Frequency"}, "y2": {"datum": 0}, "fill": {"datum": "Transferred Only", "type": "nominal"}}},
        {"mark": {"type": "rule", "stroke": "black", "strokeWidth": 1.2}, "encoding": {"x": {"datum": 0}, "x2": {"datum": 250}, "y": {"datum": -32.04}}},
        {"mark": {"type": "rule", "stroke": "black", "strokeWidth": 1.2}, "encoding": {"x": {"datum": -10.6}, "y": {"datum": 0}, "y2": {"datum": 800}}}
      ]
    },
    {
      "data": {"name": "c64"}, "width": 470, "height": 262,
      "title": {"text": "College 64", "offset": -28.2, "dx": 6.5},
      "encoding": {"x": {"field": "bin", "type": "quantitative", "bin": {"binned": true, "step": 5}, "title": "Credits Earned", "scale": {"domain": [-10.6, 267.9], "nice": false, "zero": false}, "axis": {"values": [0,50,100,150,200,250]}}},
      "layer": [
        {"mark": {"type": "bar", "fill": "white", "stroke": "black", "strokeWidth": 1.5, "binSpacing": 0},
         "encoding": {"y": {"field": "total", "type": "quantitative", "title": "Frequency", "scale": {"domain": [-21.96, 570.96], "nice": false, "zero": false}, "axis": {"values": [0,100,200,300,400,500], "labelExpr": "datum.value == 200 || datum.value == 400 ? '' : datum.label"}}, "y2": {"datum": 0}}},
        {"mark": {"type": "bar", "stroke": "black", "strokeWidth": 1.5, "binSpacing": 0},
         "encoding": {"y": {"field": "grad_or_trans", "type": "quantitative", "title": "Frequency"}, "y2": {"datum": 0},
           "fill": {"datum": "Graduated Only", "type": "nominal", "scale": {"domain": ["Graduated Only", "Graduated & Transferred", "Transferred Only"], "range": ["#0000FF", "#00FF00", "#FFFF00"]}, "legend": {"orient": "none", "legendX": 226.5, "legendY": 72.5, "title": null}}}},
        {"mark": {"type": "bar", "stroke": "black", "strokeWidth": 1.5, "binSpacing": 0},
         "encoding": {"y": {"field": "trans", "type": "quantitative", "title": "Frequency"}, "y2": {"datum": 0}, "fill": {"datum": "Graduated & Transferred", "type": "nominal"}}},
        {"mark": {"type": "bar", "stroke": "black", "strokeWidth": 1.5, "binSpacing": 0},
         "encoding": {"y": {"field": "trans_only", "type": "quantitative", "title": "Frequency"}, "y2": {"datum": 0}, "fill": {"datum": "Transferred Only", "type": "nominal"}}},
        {"mark": {"type": "rule", "stroke": "black", "strokeWidth": 1.2}, "encoding": {"x": {"datum": 0}, "x2": {"datum": 250}, "y": {"datum": -21.96}}},
        {"mark": {"type": "rule", "stroke": "black", "strokeWidth": 1.2}, "encoding": {"x": {"datum": -10.6}, "y": {"datum": 0}, "y2": {"datum": 500}}}
      ]
    }
  ],
  "config": {
    "view": {"stroke": null},
    "font": "Liberation Sans",
    "axis": {"grid": false, "domain": false, "ticks": true, "tickColor": "black", "tickWidth": 1.2, "tickSize": 13, "labelColor": "black", "labelFont": "Liberation Sans", "labelFontSize": 19, "titleColor": "black", "titleFont": "Liberation Sans", "titleFontSize": 19, "titleFontWeight": "normal", "labelOverlap": false, "labelFlush": false, "labelBound": false},
    "axisX": {"labelBaseline": "top", "labelPadding": 12, "labelAngle": 0, "titleX": 241.5, "titleY": 79, "titleBaseline": "middle", "titleAlign": "center"},
    "axisY": {"labelAngle": -90, "labelAlign": "center", "labelBaseline": "alphabetic", "labelPadding": 13, "titleX": -78, "titleY": 131, "titleAngle": -90, "titleBaseline": "middle", "titleAlign": "center"},
    "legend": {"padding": 0, "symbolType": "square", "symbolSize": 169, "symbolStrokeColor": "black", "symbolStrokeWidth": 1.2, "labelFont": "Liberation Sans", "labelFontSize": 19, "labelColor": "black", "labelOffset": 13.5, "rowPadding": 3, "labelLimit": 400},
    "title": {"font": "Liberation Sans", "fontSize": 22.8, "fontWeight": "bold", "color": "black", "anchor": "middle", "frame": "group", "baseline": "middle"}
  }
}
